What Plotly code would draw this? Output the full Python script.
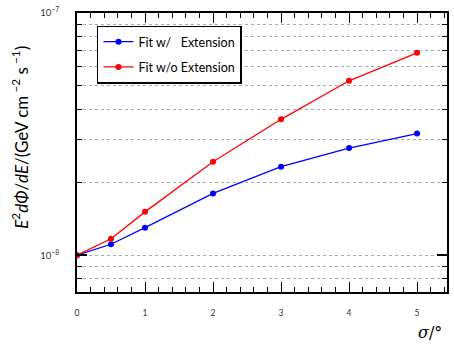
import plotly.graph_objects as go
import numpy as np

sigma = [0, 0.5, 1, 2, 3, 4, 5]
flux_ext = [1.0e-8, 1.11e-8, 1.30e-8, 1.80e-8, 2.32e-8, 2.77e-8, 3.18e-8]
flux_noext = [1.0e-8, 1.17e-8, 1.51e-8, 2.43e-8, 3.64e-8, 5.25e-8, 6.85e-8]
names = ["Fit w/&nbsp;&nbsp; Extension", "Fit w/o Extension"]
colors = ["#0000ff", "#ff0000"]

xticks = [0, 1, 2, 3, 4, 5]
yticks = [1e-8, 1e-7]
yticktext = ["10<sup>\u22128</sup>", "10<sup>\u22127</sup>"]
yminor = [m * 1e-9 for m in range(7, 10)] + [m * 1e-8 for m in range(2, 10)]

fig = go.Figure()
for i, (ys, nm, c) in enumerate(zip([flux_ext, flux_noext], names, colors)):
    fig.add_trace(go.Scatter(
        x=sigma, y=ys, name=nm, mode="lines+markers",
        line=dict(color=c, width=1.3),
        marker=dict(color=c, size=6),
        legendgroup=f"g{i}",
    ))

fig.update_layout(
    width=454, height=345,
    margin=dict(l=77, r=5, t=11, b=53),
    paper_bgcolor="white", plot_bgcolor="white",
    font=dict(family="Lato, sans-serif", color="#000"),
    showlegend=True,
    legend=dict(
        x=0.054, y=0.955, xanchor="left", yanchor="top",
        bgcolor="white", bordercolor="#000", borderwidth=1.5,
        font=dict(size=12.5, family="Lato, sans-serif"),
        tracegroupgap=6,
    ),
)

fig.update_xaxes(
    range=[0, 5.44], tickmode="array", tickvals=xticks,
    ticks="inside", ticklen=10, tickwidth=1.2, tickcolor="#000",
    showline=True, linecolor="#000", linewidth=2, mirror="allticks",
    showgrid=False, zeroline=False,
    tickfont=dict(size=8.5, color="#333"), ticklabelstandoff=12,
    minor=dict(dtick=0.2, tick0=0, ticks="inside", ticklen=5, tickwidth=1, tickcolor="#000", showgrid=False),
)

fig.update_yaxes(
    type="log", range=[np.log10(7.05e-9), -7],
    tickmode="array", tickvals=yticks, ticktext=yticktext,
    ticks="inside", ticklen=10, tickwidth=1.5, tickcolor="#000",
    showline=True, linecolor="#000", linewidth=2, mirror="allticks",
    showgrid=True, gridcolor="#aaa", griddash="dot", gridwidth=1,
    zeroline=False,
    tickfont=dict(size=9.5, color="#333"), ticklabelstandoff=14,
    minor=dict(tickmode="array", tickvals=yminor, ticks="inside", ticklen=5, tickwidth=1.2,
               tickcolor="#000", showgrid=True, gridcolor="#aaa", griddash="dot", gridwidth=1),
)

fig.add_annotation(
    text="<i>E</i><sup>2</sup><i>d\u03a6</i>/<i>dE</i>/(GeV cm<sup> \u22122</sup> s<sup> \u22121</sup>)",
    xref="paper", yref="paper", x=-0.155, y=0.555, xanchor="center", yanchor="middle",
    textangle=-90, showarrow=False, font=dict(size=17, family="Lato, sans-serif", color="#000"),
)
fig.add_annotation(
    text="<i>\u03c3</i>/\u00b0",
    xref="paper", yref="paper", x=0.955, y=-0.145, xanchor="center", yanchor="middle",
    showarrow=False, font=dict(size=16, family="DejaVu Serif, serif", color="#000"),
)

fig.write_html("out.html")
